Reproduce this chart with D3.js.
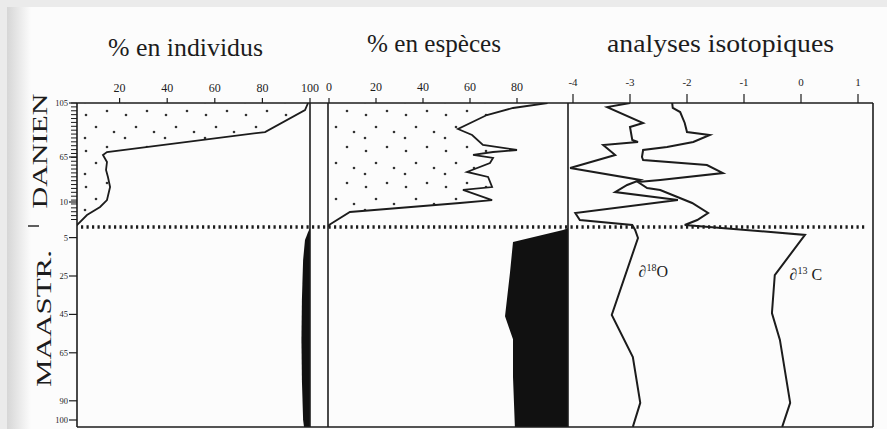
<!DOCTYPE html>
<html><head><meta charset="utf-8">
<script src="https://cdn.jsdelivr.net/npm/d3@7"></script>
<style>html,body{margin:0;padding:0;background:#fbfbfb}svg{display:block}
svg text{font-family:"Liberation Serif","Times New Roman",serif}</style>
</head><body>
<svg id="c" width="887" height="429"></svg>
<script>
// ---------------- data ----------------
const panelTitles = ["% en individus", "% en espèces", "analyses isotopiques"];
const ticksIndividus = [20, 40, 60, 80, 100];
const ticksEspeces = [0, 20, 40, 60, 80];
const ticksIsotopes = [-4, -3, -2, -1, 0, 1];
const ticksDanien = [105, 65, 10];
const ticksMaastr = [5, 25, 45, 65, 90, 100];
const stageLabels = ["DANIEN", "MAASTR."];
const isoLabels = [{base: "∂", sup: "18", el: "O"}, {base: "∂", sup: "13", el: " C"}];

// [depth (cm), value] pairs
const individusDanien = [[105,99.2],[99.8,97.9],[83.5,81.1],[68.7,14.7],[66.5,13.0],[58.9,14.7],[49.1,14.3],[40.6,15.1],[28.3,16.0],[12.4,14.7],[8,11.8],[4.8,6.3],[0.8,2.1],[0,1]];
const individusMaastr = [[0,100],[2.1,99.2],[6.3,97.9],[16.7,97.1],[37.5,96.6],[58.3,96.4],[79.2,96.6],[100,97.1],[103.6,97.5]];
const especesDanien = [[105,93],[101.3,78.3],[96.1,67.2],[85.7,54.9],[81.3,60.9],[73.9,65.5],[70.2,80.0],[68.7,69.8],[66.5,61.3],[63.8,69.8],[57.7,68.5],[46.7,58.7],[40.6,67.7],[28.3,69.4],[24.7,57.0],[12.4,69.4],[9.6,55.7],[6,8.9],[0.8,0],[0,0]];
const especesMaastr = [[0,102],[1.0,99.6],[7.3,78.3],[23.4,77.0],[46,74.9],[58,78.3],[77.6,78.3],[103.6,79.1]];
const d18ODanien = [[105,-3.0],[102,-3.4],[90.2,-2.77],[87.2,-3.0],[77.6,-2.96],[76.1,-2.86],[73.9,-3.47],[66.5,-3.26],[51.6,-4.05],[36.9,-2.82],[30.8,-3.05],[22.2,-3.26],[12.4,-2.16],[5.6,-3.96],[2.8,-3.88],[0.8,-2.96]];
const d18OMaastr = [[1.0,-2.91],[5.2,-2.86],[45.3,-3.32],[67.2,-2.95],[91.1,-2.82],[103.6,-2.95]];
const d13CDanien = [[105,-2.26],[101.3,-2.25],[98.3,-2.12],[90.2,-2.04],[83.5,-2.0],[81.3,-1.6],[76.1,-1.89],[72.4,-2.35],[70.2,-2.77],[65,-2.79],[61.3,-2.77],[55.2,-1.65],[45.4,-1.37],[36.9,-2.47],[34.4,-2.86],[27.1,-2.7],[24.7,-2.47],[9.6,-1.91],[5.6,-1.63],[2.8,-1.82],[0.8,-2.04]];
const d13CMaastr = [[3.6,0.07],[24.5,-0.46],[44.3,-0.51],[58.3,-0.37],[91.1,-0.19],[103.6,-0.33]];
const maastrBottom = 103.6;

// ---------------- layout ----------------
const W = 887, H = 429, INK = "#1c1c1c";
const TOP = 103, BOT = 427;
const L1 = 77, R1 = 310, L2 = 328, R2 = 568, R3 = 873;

const x1 = d3.scaleLinear().domain([0, 100]).range([72, 310]);
const x2 = d3.scaleLinear().domain([0, 100]).range([329, 564]);
const x3 = d3.scaleLinear().domain([-4, 1]).range([573, 858]);
const yD = d3.scaleLinear().domain([105, 65, 10, 0]).range([TOP, 157, 202, 227]);
const yM = d3.scaleLinear().domain([0, 100]).range([228, 420]);

const svg = d3.select("#c");
const defs = svg.append("defs");

// paper background
const g0 = defs.append("linearGradient").attr("id", "edge").attr("x1", 0).attr("x2", 1).attr("y1", 0).attr("y2", 0);
g0.append("stop").attr("offset", "0").attr("stop-color", "#d6d6d6");
g0.append("stop").attr("offset", "1").attr("stop-color", "#fcfcfc");
svg.append("rect").attr("width", W).attr("height", H).attr("fill", "#fcfcfc");
svg.append("rect").attr("x", 7).attr("y", 7).attr("width", 24).attr("height", H).attr("fill", "url(#edge)");
svg.append("rect").attr("width", W).attr("height", 7).attr("fill", "#ebebeb");
svg.append("rect").attr("width", 7).attr("height", H).attr("fill", "#ebebeb");

// stipple pattern
const pat = defs.append("pattern").attr("id", "stip").attr("patternUnits", "userSpaceOnUse")
  .attr("width", 40).attr("height", 36);
[[6, 7], [27, 3], [16, 19], [34, 24], [5, 30]].forEach(p =>
  pat.append("circle").attr("cx", p[0]).attr("cy", p[1]).attr("r", 1.3).attr("fill", "#333"));

// clips
[["c1", L1, R1], ["c2", L2, R2], ["c3", R2, R3]].forEach(([id, a, b]) =>
  defs.append("clipPath").attr("id", id).append("rect")
    .attr("x", a).attr("y", TOP).attr("width", b - a).attr("height", BOT - TOP));

// ---------------- panel 1 ----------------
const p1 = svg.append("g").attr("clip-path", "url(#c1)");
p1.append("path").datum(individusDanien)
  .attr("d", d3.area().y(d => yD(d[0])).x0(x1(0)).x1(d => x1(d[1])))
  .attr("fill", "url(#stip)");
p1.append("path").datum(individusDanien)
  .attr("d", d3.line().y(d => yD(d[0])).x(d => x1(d[1])))
  .attr("fill", "none").attr("stroke", INK).attr("stroke-width", 1.8);
p1.append("path").datum(individusMaastr)
  .attr("d", d3.area().y(d => yM(d[0])).x0(d => x1(d[1])).x1(x1(100)))
  .attr("fill", "#111");

// ---------------- panel 2 ----------------
const p2 = svg.append("g").attr("clip-path", "url(#c2)");
p2.append("path").datum(especesDanien)
  .attr("d", d3.area().y(d => yD(d[0])).x0(x2(0)).x1(d => x2(d[1])))
  .attr("fill", "url(#stip)");
p2.append("path").datum(especesDanien)
  .attr("d", d3.line().y(d => yD(d[0])).x(d => x2(d[1])))
  .attr("fill", "none").attr("stroke", INK).attr("stroke-width", 1.8);
p2.append("path").datum(especesMaastr)
  .attr("d", d3.area().y(d => yM(d[0])).x0(d => x2(d[1])).x1(x2(102)))
  .attr("fill", "#111");

// ---------------- panel 3 ----------------
const p3 = svg.append("g").attr("clip-path", "url(#c3)");
[[d18ODanien, d18OMaastr], [d13CDanien, d13CMaastr]].forEach(([dan, maa]) => {
  const pts = dan.map(d => [x3(d[1]), yD(d[0])]).concat(maa.map(d => [x3(d[1]), yM(d[0])]));
  p3.append("path").attr("d", d3.line()(pts))
    .attr("fill", "none").attr("stroke", INK).attr("stroke-width", 2).attr("stroke-linejoin", "miter");
});
// labels of isotope curves
const isoPos = [[x3(-2.85), yM(25.5)], [x3(-0.2), yM(27)]];
isoLabels.forEach((l, i) => {
  const t = svg.append("text").attr("x", isoPos[i][0]).attr("y", isoPos[i][1])
    .attr("font-size", 16).attr("fill", INK);
  t.append("tspan").text(l.base);
  t.append("tspan").attr("font-size", 10).attr("dy", -6).text(l.sup);
  t.append("tspan").attr("dy", 6).text(l.el);
});

// ---------------- frames ----------------
const fr = svg.append("g").attr("stroke", INK).attr("stroke-width", 1.6);
fr.append("line").attr("x1", L1).attr("x2", R3).attr("y1", TOP).attr("y2", TOP);
fr.append("line").attr("x1", L1).attr("x2", R3).attr("y1", BOT).attr("y2", BOT);
[L1, R1, L2, R2, R3].forEach(x =>
  fr.append("line").attr("x1", x).attr("x2", x).attr("y1", TOP).attr("y2", BOT));

// boundary dotted line
svg.append("line").attr("x1", 81).attr("x2", 866).attr("y1", yD(0)).attr("y2", yD(0))
  .attr("stroke", INK).attr("stroke-width", 3.5).attr("stroke-dasharray", "2.2 3.3");

// ---------------- top axes ----------------
function topAxis(scale, ticks, len, baseline, fs) {
  const g = svg.append("g");
  ticks.forEach(v => {
    g.append("line").attr("x1", scale(v)).attr("x2", scale(v)).attr("y1", TOP - len).attr("y2", TOP)
      .attr("stroke", INK).attr("stroke-width", 1.2);
    g.append("text").attr("x", scale(v)).attr("y", baseline).attr("text-anchor", "middle")
      .attr("font-size", fs).attr("fill", INK).text(v);
  });
}
topAxis(x1, ticksIndividus, 5, 92, 12);
topAxis(x2, ticksEspeces, 5, 91, 12);
topAxis(x3, ticksIsotopes, 9, 86, 11);

// titles
const titlePos = [[108, 56, 155], [367, 52, 134], [607, 52, 227]];
panelTitles.forEach((t, i) => {
  svg.append("text").attr("x", titlePos[i][0]).attr("y", titlePos[i][1])
    .attr("font-size", 25).attr("fill", INK)
    .attr("textLength", titlePos[i][2]).attr("lengthAdjust", "spacingAndGlyphs").text(t);
});

// ---------------- depth axis ----------------
const ax = svg.append("g");
const minor = d3.scaleLinear().domain([0, 30]).range([yD(105), yD(3)]);
d3.range(31).forEach(i => ax.append("line").attr("x1", L1 - 6).attr("x2", L1)
  .attr("y1", minor(i)).attr("y2", minor(i)).attr("stroke", INK).attr("stroke-width", 1));
function leftTicks(scale, ticks) {
  ticks.forEach(v => {
    ax.append("line").attr("x1", L1 - 8).attr("x2", L1).attr("y1", scale(v)).attr("y2", scale(v))
      .attr("stroke", INK).attr("stroke-width", 1.2);
    ax.append("text").attr("x", L1 - 9).attr("y", scale(v)).attr("dy", "0.35em")
      .attr("text-anchor", "end").attr("font-size", 8.5)
      .attr("fill", INK).text(v);
  });
}
leftTicks(yD, ticksDanien);
leftTicks(yM, ticksMaastr);

// stage labels
const stagePos = [[47, (yD(105) + yD(0)) / 2 - 14, 115], [51, (yM(0) + yM(maastrBottom)) / 2 - 9, 137]];
stageLabels.forEach((s, i) => {
  svg.append("text").attr("transform", `translate(${stagePos[i][0]},${stagePos[i][1]}) rotate(-90)`)
    .attr("text-anchor", "middle").attr("font-size", 21).attr("fill", INK)
    .attr("textLength", stagePos[i][2]).attr("lengthAdjust", "spacingAndGlyphs").text(s);
});
svg.append("line").attr("x1", 28).attr("x2", 39).attr("y1", yD(0) - 1).attr("y2", yD(0) - 1)
  .attr("stroke", INK).attr("stroke-width", 1.4);
</script>
</body></html>
